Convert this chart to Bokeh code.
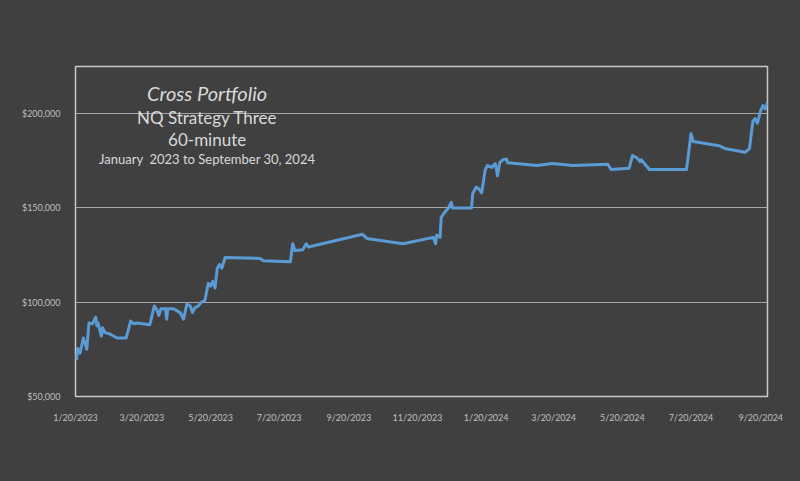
import pandas as pd
from bokeh.plotting import figure
from bokeh.models import FixedTicker, DatetimeTickFormatter, NumeralTickFormatter, Range1d, Label
from bokeh.embed import file_html
from bokeh.resources import INLINE

# ---- data ----
dates = [
    "2023-01-20", "2023-01-21", "2023-01-22", "2023-01-24", "2023-01-27", "2023-01-30",
    "2023-02-01", "2023-02-04", "2023-02-07", "2023-02-08", "2023-02-09", "2023-02-12",
    "2023-02-13", "2023-02-15", "2023-02-20", "2023-02-26", "2023-03-06", "2023-03-10",
    "2023-03-13", "2023-03-16", "2023-03-27", "2023-03-31", "2023-04-02", "2023-04-04",
    "2023-04-06", "2023-04-10", "2023-04-11", "2023-04-12", "2023-04-17", "2023-04-23",
    "2023-04-26", "2023-04-29", "2023-05-02", "2023-05-04", "2023-05-06", "2023-05-09",
    "2023-05-12", "2023-05-15", "2023-05-18", "2023-05-20", "2023-05-22", "2023-05-24",
    "2023-05-26", "2023-05-28", "2023-05-30", "2023-06-02", "2023-07-03", "2023-07-06",
    "2023-07-30", "2023-08-01", "2023-08-03", "2023-08-10", "2023-08-13", "2023-08-15",
    "2023-10-02", "2023-10-06", "2023-11-07", "2023-12-04", "2023-12-06", "2023-12-07",
    "2023-12-10", "2023-12-11", "2023-12-14", "2023-12-17", "2023-12-20", "2023-12-21",
    "2024-01-07", "2024-01-08", "2024-01-11", "2024-01-13", "2024-01-16", "2024-01-19",
    "2024-01-21", "2024-01-25", "2024-01-28", "2024-01-29", "2024-01-30", "2024-02-01",
    "2024-02-04", "2024-02-07", "2024-02-08", "2024-03-05", "2024-03-19", "2024-04-06",
    "2024-05-07", "2024-05-10", "2024-05-26", "2024-05-29", "2024-06-02", "2024-06-05",
    "2024-06-06", "2024-06-10", "2024-06-13", "2024-07-16", "2024-07-18", "2024-07-20",
    "2024-07-22", "2024-08-14", "2024-08-19", "2024-09-06", "2024-09-10", "2024-09-13",
    "2024-09-15", "2024-09-17", "2024-09-20", "2024-09-22", "2024-09-24", "2024-09-26",
]
equity = [
    72000, 70000, 75500, 73000, 81000, 75000,
    89000, 88500, 92000, 87500, 89000, 82000,
    86500, 84000, 83000, 81000, 81000, 90000,
    88600, 89000, 88000, 98000, 96500, 93000,
    96500, 96600, 91000, 96500, 96500, 94500,
    91000, 99000, 98000, 94500, 97000, 98000,
    100000, 101000, 110000, 108500, 111000, 107500,
    118000, 120000, 118000, 123700, 123200, 122000,
    121500, 131000, 127400, 127800, 131000, 129300,
    136000, 133800, 131000, 134400, 131000, 135500,
    134400, 145000, 147600, 149700, 153000, 150000,
    150000, 157600, 161000, 160400, 158000, 170000,
    172500, 171500, 173500, 171000, 167000, 174000,
    175600, 176000, 174000, 172500, 173500, 172500,
    173200, 170400, 171000, 177800, 176500, 174500,
    175500, 172500, 170400, 170400, 179500, 189400,
    185200, 183000, 181500, 179500, 181500, 196000,
    197400, 195000, 201700, 204300, 202500, 205900,
]
tick_dates = ["2023-01-20", "2023-03-20", "2023-05-20", "2023-07-20", "2023-09-20",
              "2023-11-20", "2024-01-20", "2024-03-20", "2024-05-20", "2024-07-20",
              "2024-09-20"]
y_ticks = [50000, 100000, 150000, 200000]
title_lines = ["Cross Portfolio", "NQ Strategy Three", "60-minute",
               "January\u00a0 2023 to September 30, 2024"]

# ---- styling ----
BG = "#404040"
FONT = "Lato"
LABEL_COLOR = "#bfbfbf"

x = pd.to_datetime(dates)
x_start = pd.Timestamp("2023-01-20")
x_end = pd.Timestamp("2024-09-26")

p = figure(width=800, height=481, output_backend="svg", toolbar_location=None,
           x_axis_type="datetime",
           x_range=Range1d(x_start, x_end), y_range=Range1d(50000, 225000),
           min_border_left=75, min_border_right=33, min_border_top=66,
           min_border_bottom=85)
p.background_fill_color = BG
p.border_fill_color = BG
p.outline_line_color = "#c8c8c8"
p.outline_line_width = 1.5

p.line(x, equity, line_color="#5b9bd5", line_width=3, line_join="round")

tick_ms = [pd.Timestamp(d).value / 1e6 for d in tick_dates]
p.xaxis.ticker = FixedTicker(ticks=tick_ms)
fmt = "%-m/%-d/%Y"
p.xaxis.formatter = DatetimeTickFormatter(
    milliseconds=fmt, seconds=fmt, minsec=fmt, minutes=fmt, hourmin=fmt,
    hours=fmt, days=fmt, months=fmt, years=fmt)
p.yaxis.ticker = FixedTicker(ticks=y_ticks)
p.yaxis.formatter = NumeralTickFormatter(format="$0,0")

for ax in (p.xaxis[0], p.yaxis[0]):
    ax.axis_line_color = None
    ax.major_tick_line_color = None
    ax.minor_tick_line_color = None
    ax.major_label_text_color = LABEL_COLOR
    ax.major_label_text_font = FONT
    ax.major_label_text_font_size = "9px"
p.xaxis.major_label_standoff = 9
p.yaxis.major_label_standoff = 9

p.xgrid.grid_line_color = None
p.ygrid.grid_line_color = "#a6a6a6"
p.ygrid.grid_line_width = 1

# title block inside the plot area
title_x = pd.Timestamp("2023-05-17")
title_y = [211200, 198200, 186300, 175700]
title_sizes = ["20px", "17px", "17px", "13px"]
title_styles = ["italic", "normal", "normal", "normal"]
for txt, ty, fs, st in zip(title_lines, title_y, title_sizes, title_styles):
    p.add_layout(Label(x=title_x, y=ty, text=txt, text_align="center",
                       text_baseline="middle", text_font=FONT, text_font_size=fs,
                       text_font_style=st, text_color="#d9d9d9"))

html = file_html(p, INLINE)
html = html.replace("<head>", "<head><style>html,body{background:%s;}</style>" % BG, 1)
open("out.html", "w").write(html)
